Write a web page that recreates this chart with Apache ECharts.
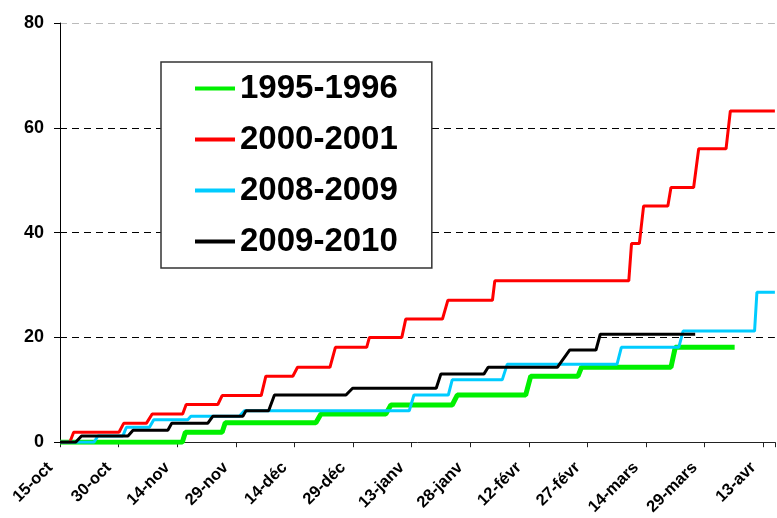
<!DOCTYPE html>
<html>
<head>
<meta charset="utf-8">
<script src="https://cdn.jsdelivr.net/npm/echarts@6/dist/echarts.min.js"></script>
<style>
  html, body { margin: 0; padding: 0; background: #fff; }
  #chart { width: 777px; height: 518px; }
</style>
</head>
<body>
<div id="chart"></div>
<script>
// x = days counted from 15 October
const tickLabels = ["15-oct", "30-oct", "14-nov", "29-nov", "14-déc", "29-déc", "13-janv",
  "28-janv", "12-févr", "27-févr", "14-mars", "29-mars", "13-avr"];

const seasons = ["1995-1996", "2000-2001", "2008-2009", "2009-2010"];

const days9596 = [0, 31.3, 32.1, 41.5, 42.3, 65.5, 66.8, 83.4, 84.7, 100.4, 101.7, 119.2, 120.5, 132.6, 133.5, 156.4, 157.5, 172.7];
const vals9596 = [0, 0, 1.9, 1.9, 3.7, 3.7, 5.4, 5.4, 7.1, 7.1, 9.0, 9.0, 12.6, 12.6, 14.3, 14.3, 18.1, 18.1];

const days0001 = [0, 2.5, 3.5, 15.1, 16.3, 22.1, 23.6, 31.4, 32.3, 40.4, 41.5, 51.5, 52.7, 59.6, 60.8, 69.1, 70.5,
  78.5, 79.2, 87.5, 88.5, 97.9, 99.3, 110.7, 111.3, 145.6, 146.3, 148.3, 149.4, 155.6, 156.4, 162.2, 163.5, 170.5, 171.6, 183];
const vals0001 = [0, 0, 1.9, 1.9, 3.6, 3.6, 5.4, 5.4, 7.2, 7.2, 8.9, 8.9, 12.6, 12.6, 14.3, 14.3, 18.1,
  18.1, 20.0, 20.0, 23.5, 23.5, 27.1, 27.1, 30.8, 30.8, 37.9, 37.9, 45.1, 45.1, 48.6, 48.6, 56.0, 56.0, 63.2, 63.2];

const days0809 = [0, 8.7, 9.7, 16.1, 17.0, 22.9, 24.0, 32.7, 33.5, 45.9, 47.2, 89.4, 90.6, 99.4, 100.4, 113.2, 114.5,
  142.6, 143.7, 158.4, 159.5, 177.8, 178.4, 183];
const vals0809 = [0, 0, 1.2, 1.2, 2.85, 2.85, 4.3, 4.3, 4.95, 4.95, 6.0, 6.0, 9.0, 9.0, 11.9, 11.9, 14.9,
  14.9, 18.1, 18.1, 21.2, 21.2, 28.6, 28.6];

const days0910 = [0, 4.0, 5.5, 17.4, 18.7, 27.6, 28.6, 37.8, 39.1, 46.8, 47.6, 53.4, 54.9, 73.2, 74.9, 96.3, 97.5,
  108.5, 109.6, 127.3, 130.5, 137.2, 138.3, 162.6];
const vals0910 = [0, 0, 1.2, 1.2, 2.3, 2.3, 3.6, 3.6, 4.95, 4.95, 6.0, 6.0, 9.0, 9.0, 10.3, 10.3, 13.0,
  13.0, 14.3, 14.3, 17.6, 17.6, 20.6, 20.6];

const zip = (xs, ys) => xs.map((x, i) => [x, ys[i]]);
const font = "Arial, 'Liberation Sans', sans-serif";

const chart = echarts.init(document.getElementById("chart"));

function lineSeries(name, data, color, width) {
  return {
    name: name,
    type: "line",
    data: data,
    symbol: "none",
    smooth: false,
    color: color,
    lineStyle: { color: color, width: width },
  };
}

chart.setOption({
  animation: false,
  backgroundColor: "#fff",
  grid: { left: 60, right: 0, top: 23, bottom: 75 },
  legend: {
    orient: "vertical",
    left: 161,
    top: 62,
    data: seasons,
    icon: "rect",
    itemWidth: 40,
    itemHeight: 4,
    itemGap: 18,
    padding: [10, 34, 10, 34],
    backgroundColor: "#fff",
    borderColor: "#333",
    borderWidth: 1.5,
    textStyle: { fontFamily: font, fontWeight: "bold", fontSize: 33, lineHeight: 30, color: "#000" },
  },
  xAxis: {
    type: "value",
    min: 0,
    max: 183,
    interval: 15,
    axisLine: { lineStyle: { color: "#222", width: 1 } },
    axisTick: { show: true, length: 5, lineStyle: { color: "#222" } },
    splitLine: { show: false },
    axisLabel: {
      rotate: 45,
      margin: 13,
      padding: [0, 14, 0, 0],
      fontFamily: font,
      fontWeight: "bold",
      fontSize: 16.5,
      color: "#000",
      formatter: (v) => (v % 15 === 0 ? tickLabels[v / 15] || "" : ""),
    },
  },
  yAxis: {
    type: "value",
    min: 0,
    max: 80,
    interval: 20,
    axisLine: { show: true, lineStyle: { color: "#000", width: 1 } },
    axisTick: { show: true, length: 6, lineStyle: { color: "#000" } },
    splitLine: {
      show: true,
      showMaxLine: true,
      lineStyle: { color: ["#000", "#000", "#000", "#000", "#bbb"], type: [7, 5], width: 1 },
    },
    axisLabel: { margin: 16, fontFamily: font, fontWeight: "bold", fontSize: 18, color: "#000" },
  },
  series: [
    lineSeries(seasons[0], zip(days9596, vals9596), "#00f000", 5),
    lineSeries(seasons[1], zip(days0001, vals0001), "#ff0000", 3),
    lineSeries(seasons[2], zip(days0809, vals0809), "#00ccff", 3),
    lineSeries(seasons[3], zip(days0910, vals0910), "#000000", 3),
  ],
});
</script>
</body>
</html>
